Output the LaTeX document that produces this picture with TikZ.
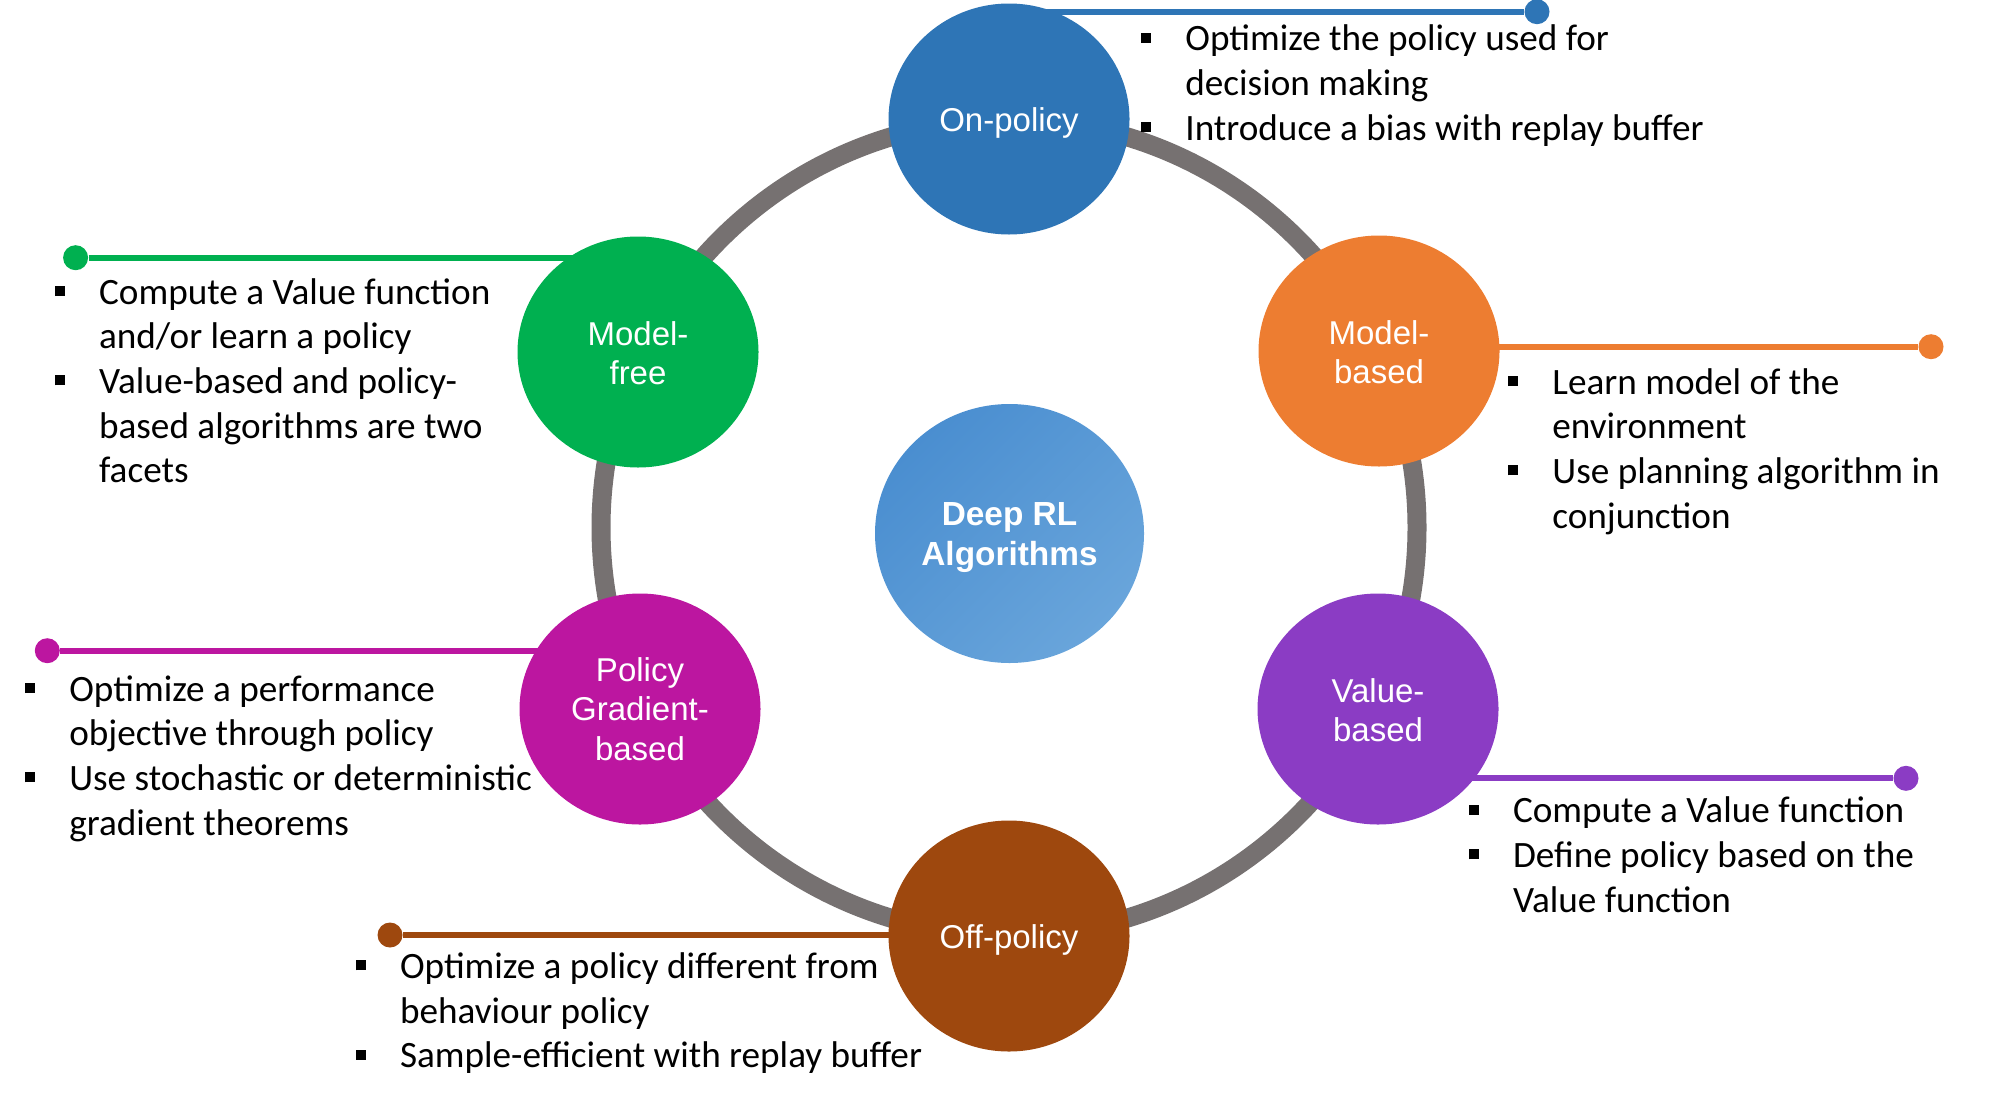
\documentclass[tikz,border=0pt]{standalone}
\usepackage{fontspec}
\setmainfont{Carlito}
\newfontfamily\arialf{Liberation Sans}
\usetikzlibrary{calc,shapes.geometric}
\definecolor{ringgray}{HTML}{767171}
\definecolor{onc}{HTML}{2E75B6}
\definecolor{mbc}{HTML}{ED7D31}
\definecolor{mfc}{HTML}{00B050}
\definecolor{vbc}{HTML}{8B3CC4}
\definecolor{pgc}{HTML}{BC16A0}
\definecolor{offc}{HTML}{9E480E}
\definecolor{ctrA}{HTML}{4A8ED0}
\definecolor{ctrB}{HTML}{69A5DB}
\pgfdeclarelayer{bg}
\pgfsetlayers{bg,main}
\newcommand\bsq{\raisebox{4pt}{\rule{5pt}{5pt}}}
\newcommand\blist[1]{\begin{tabular}[t]{@{}p{22pt}@{}l@{}}#1\end{tabular}}
\begin{document}
\begin{tikzpicture}[x=0.5pt,y=-0.5pt,
  bubble/.style={ellipse, minimum width=120.5pt, minimum height=115.5pt, inner sep=0pt,
     text=white, align=center, font=\arialf\fontsize{16.5pt}{19.75pt}\selectfont},
  blk/.style={anchor=base west, inner sep=0pt, font=\fontsize{18.6pt}{22.35pt}\selectfont},
  dot/.style={circle, inner sep=0pt, minimum size=12.5pt},
  conn/.style={line width=3pt},
]
\useasboundingbox (0,0) rectangle (2000,1103);
% ring centre
\coordinate (rc) at (1009,527.5);
% circles
\node[bubble, fill=onc]  (on)  at (1009,119)  {};
\node[bubble, fill=mfc]  (mf)  at (638,352)   {};
\node[bubble, fill=mbc]  (mb)  at (1379,351)  {};
\node[bubble, fill=pgc]  (pg)  at (640,709)   {};
\node[bubble, fill=vbc]  (vb)  at (1378,709)  {};
\node[bubble, fill=offc] (off) at (1009,936)  {};
\node[ellipse, minimum width=134.5pt, minimum height=129.5pt, inner sep=0pt,
      left color=ctrA, right color=ctrB, shading angle=45] (ctr) at (1009.5,533.5) {};
% labels
\node[bubble, minimum size=0pt] (onl)  at ([yshift=-2pt]on.center)  {On-policy};
\node[bubble, minimum size=0pt] (mfl)  at ([yshift=-0.5pt]mf.center) {Model-\\free};
\node[bubble, minimum size=0pt] (mbl)  at ([yshift=-0.5pt]mb.center) {Model-\\based};
\node[bubble, minimum size=0pt] (pgl)  at (pg.center)  {Policy\\Gradient-\\based};
\node[bubble, minimum size=0pt] (vbl)  at ([yshift=-0.5pt]vb.center) {Value-\\based};
\node[bubble, minimum size=0pt] (offl) at ([yshift=-2pt]off.center) {Off-policy};
\node[text=white, align=center, inner sep=0pt,
      font=\arialf\bfseries\fontsize{16.7pt}{20pt}\selectfont] (ctrl) at ([yshift=-2pt]ctr.center) {Deep RL\\Algorithms};
% dots
\node[dot, fill=onc]  (d1) at (1537,11.7)  {};
\node[dot, fill=mfc]  (d2) at (75.6,257.7) {};
\node[dot, fill=mbc]  (d3) at (1931,346.7) {};
\node[dot, fill=pgc]  (d4) at (47.3,650.7) {};
\node[dot, fill=vbc]  (d5) at (1906,778.3) {};
\node[dot, fill=offc] (d6) at (390,935)    {};
\begin{pgfonlayer}{bg}
  \draw[ringgray, line width=9.5pt] (rc) circle[radius=408];
  \draw[conn, onc]  (d1) -- (d1 -| on);
  \draw[conn, mfc]  (d2) -- (d2 -| mf);
  \draw[conn, mbc]  (d3) -- (d3 -| mb);
  \draw[conn, pgc]  (d4) -- (d4 -| pg);
  \draw[conn, vbc]  (d5) -- (d5 -| vb);
  \draw[conn, offc] (d6) -- (d6 -| off);
\end{pgfonlayer}
% texts
\node[blk] (t1) at (1141,50.7) {\blist{\bsq & Optimize the policy used for\\ & decision making\\ \bsq & Introduce a bias with replay buffer}};
\node[blk] (t2) at (54.7,304) {\blist{\bsq & Compute a Value function\\ & and/or learn a policy\\ \bsq & Value-based and policy-\\ & based algorithms are two\\ & facets}};
\node[blk] (t3) at (1508,394) {\blist{\bsq & Learn model of the\\ & environment\\ \bsq & Use planning algorithm in\\ & conjunction}};
\node[blk] (t4) at (24.9,701) {\blist{\bsq & Optimize a performance\\ & objective through policy\\ \bsq & Use stochastic or deterministic\\ & gradient theorems}};
\node[blk] (t5) at (1468.6,822.7) {\blist{\bsq & Compute a Value function\\ \bsq & Define policy based on the\\ & Value function}};
\node[blk] (t6) at (355.6,978.3) {\blist{\bsq & Optimize a policy different from\\ & behaviour policy\\ \bsq & Sample-efficient with replay buffer}};
\end{tikzpicture}
\end{document}
